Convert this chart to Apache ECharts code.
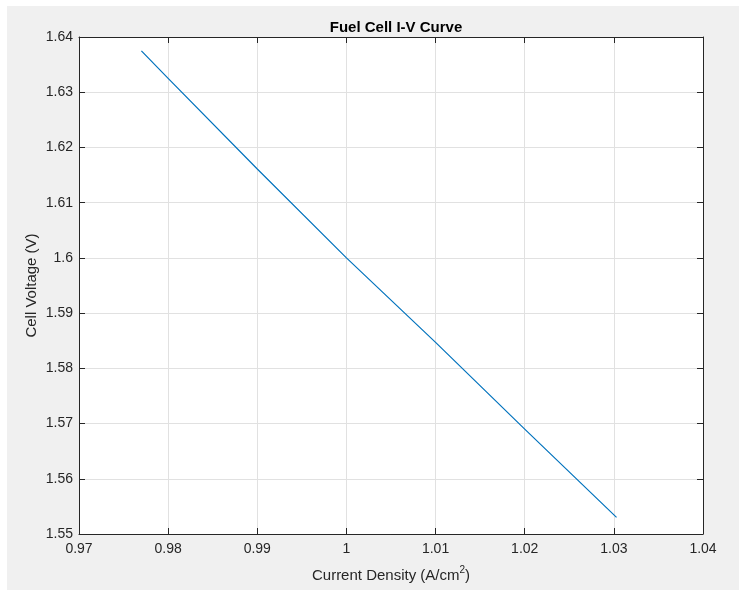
<!DOCTYPE html>
<html>
<head>
<meta charset="utf-8">
<script src="https://cdn.jsdelivr.net/npm/echarts@6/dist/echarts.min.js"></script>
<style>
html,body{margin:0;padding:0;background:#ffffff;}
#chart{width:739px;height:590px;}
</style>
</head>
<body>
<div id="chart"></div>
<script>
// Data
const currentDensity = [0.977, 0.98, 0.99, 1.0, 1.01, 1.02, 1.0303];
const cellVoltage    = [1.6375, 1.6325, 1.6161, 1.6, 1.5847, 1.569, 1.553];
const xTicks = [0.97, 0.98, 0.99, 1.0, 1.01, 1.02, 1.03, 1.04];
const yTicks = [1.55, 1.56, 1.57, 1.58, 1.59, 1.60, 1.61, 1.62, 1.63, 1.64];

const titleText = 'Fuel Cell I-V Curve';
const xName = 'Current Density (A/cm';
const yName = 'Cell Voltage (V)';

const FONT = '"Liberation Sans", Arial, Helvetica, sans-serif';
const TXT = '#262626';
const fmt = v => String(+v.toFixed(2));

const chart = echarts.init(document.getElementById('chart'), null, {renderer: 'canvas'});

const points = currentDensity.map((x, i) => [x, cellVoltage[i]]);

const baseAxisLine = {show: true, onZero: false, lineStyle: {color: TXT, width: 1}};
const baseTick = {show: true, inside: true, length: 6, lineStyle: {color: TXT, width: 1}};

chart.setOption({
  backgroundColor: '#f0f0f0',
  animation: false,
  graphic: [
    {type: 'rect', shape: {x: 0, y: 0, width: 739, height: 6}, style: {fill: '#ffffff'}, silent: true},
    {type: 'rect', shape: {x: 0, y: 0, width: 7, height: 590}, style: {fill: '#ffffff'}, silent: true}
  ],
  title: {
    text: titleText,
    left: 391, top: 15, textAlign: 'center',
    textStyle: {fontFamily: FONT, fontSize: 15, fontWeight: 'bold', color: '#000000'}
  },
  grid: {
    left: 79, right: 36, top: 37, bottom: 56,
    show: true, backgroundColor: '#ffffff', borderWidth: 0
  },
  xAxis: [
    {
      type: 'value', min: xTicks[0], max: xTicks[xTicks.length - 1], interval: 0.01,
      position: 'bottom',
      axisLine: baseAxisLine, axisTick: baseTick,
      axisLabel: {formatter: fmt, color: TXT, fontFamily: FONT, fontSize: 14, margin: 8},
      splitLine: {show: true, lineStyle: {color: '#e1e1e1', width: 1}},
      name: '{a|' + xName + '}{s|2}{a|)}',
      nameLocation: 'middle', nameGap: 31, nameMoveOverlap: false,
      nameTextStyle: {
        rich: {
          a: {fontFamily: FONT, fontSize: 15, color: TXT, verticalAlign: 'bottom', lineHeight: 18},
          s: {fontFamily: FONT, fontSize: 10, color: TXT, verticalAlign: 'top', lineHeight: 18, padding: [0, 0, 9, 0]}
        }
      }
    },
    {
      type: 'value', min: xTicks[0], max: xTicks[xTicks.length - 1], interval: 0.01,
      position: 'top',
      axisLine: baseAxisLine, axisTick: baseTick,
      axisLabel: {show: false}, splitLine: {show: false}
    }
  ],
  yAxis: [
    {
      type: 'value', min: yTicks[0], max: yTicks[yTicks.length - 1], interval: 0.01,
      position: 'left',
      axisLine: baseAxisLine, axisTick: baseTick,
      axisLabel: {formatter: fmt, color: TXT, fontFamily: FONT, fontSize: 14, margin: 6},
      splitLine: {show: true, lineStyle: {color: '#e1e1e1', width: 1}},
      name: yName, nameLocation: 'middle', nameGap: 40, nameMoveOverlap: false,
      nameTextStyle: {fontFamily: FONT, fontSize: 15, color: TXT}
    },
    {
      type: 'value', min: yTicks[0], max: yTicks[yTicks.length - 1], interval: 0.01,
      position: 'right',
      axisLine: baseAxisLine, axisTick: baseTick,
      axisLabel: {show: false}, splitLine: {show: false}
    }
  ],
  series: [{
    type: 'line',
    xAxisIndex: 0, yAxisIndex: 0,
    data: points,
    showSymbol: false, symbol: 'none',
    lineStyle: {color: '#0072BD', width: 1.2},
    z: 3
  }]
});
</script>
</body>
</html>
